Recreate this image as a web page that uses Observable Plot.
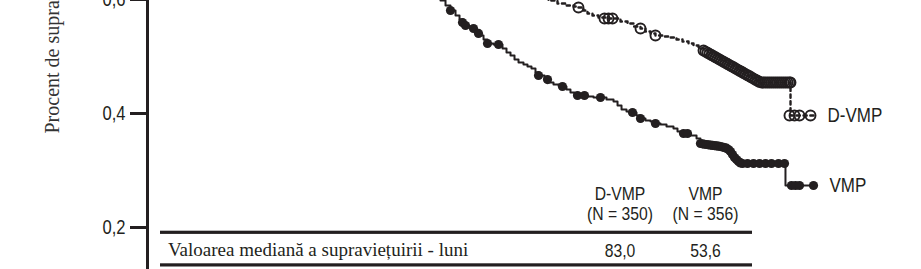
<!DOCTYPE html>
<html>
<head>
<meta charset="utf-8">
<script src="https://cdn.jsdelivr.net/npm/d3@7"></script>
<script src="https://cdn.jsdelivr.net/npm/@observablehq/plot@0.6"></script>
<style>
  body { margin: 0; background: white; }
  #chart { width: 921px; height: 269px; overflow: hidden; }
</style>
</head>
<body>
<div id="chart"></div>
<script>
// ---- Data (time in months, survival proportion) ----
const seriesNames = ["D-VMP", "VMP"];

const vmpT = [39.57,40.72,41.59,42.46,43.19,43.91,44.64,45.22,45.80,46.38,46.96,47.54,48.12,48.70,49.28,50.14,51.45,52.03,52.61,53.19,53.77,54.49,55.07,55.65,56.23,56.81,57.54,58.12,58.84,59.57,60.14,60.72,61.30,61.88,63.33,64.64,66.52,67.54,68.12,68.70,69.42,70.29,70.87,71.45,72.17,72.90,73.62,74.35,75.22,76.23,76.81,77.25,78.70,79.57,80.14,81.01,82.03,83.04,84.06,84.64,84.93,85.51,86.23,92.46,96.81];
const vmpS = [0.6368,0.6228,0.6105,0.5982,0.5895,0.5807,0.5719,0.5649,0.5579,0.5526,0.5474,0.5421,0.5368,0.5298,0.5228,0.5211,0.5140,0.5070,0.5018,0.4947,0.4895,0.4860,0.4825,0.4789,0.4719,0.4667,0.4596,0.4544,0.4509,0.4491,0.4474,0.4421,0.4368,0.4316,0.4298,0.4281,0.4246,0.4211,0.4140,0.4070,0.4035,0.4018,0.3965,0.3912,0.3877,0.3860,0.3825,0.3807,0.3772,0.3737,0.3684,0.3649,0.3614,0.3561,0.3474,0.3456,0.3439,0.3421,0.3386,0.3316,0.3246,0.3175,0.3123,0.2737,0.2737];

const vmpCensT = [43.91,45.65,46.09,47.25,47.97,49.28,50.87,56.67,57.97,60.14,62.32,63.33,65.65,70.29,71.45,73.62,77.68,78.26,
  80.14,80.43,80.72,81.01,81.30,81.59,81.88,82.17,82.46,82.75,83.04,83.33,83.62,83.91,84.20,84.49,84.78,85.07,85.36,85.65,85.94,86.23,
  86.96,87.83,88.70,89.57,90.43,91.45,92.32,93.33,93.91,94.49,96.52];
const vmpCensS = [0.5807,0.5596,0.5544,0.5491,0.5404,0.5228,0.5211,0.4667,0.4596,0.4474,0.4316,0.4316,0.4281,0.4018,0.3912,0.3825,0.3649,0.3649,
  0.3474,0.3468,0.3461,0.3456,0.3451,0.3446,0.3440,0.3437,0.3432,0.3426,0.3421,0.3411,0.3402,0.3391,0.3368,0.3333,0.3281,0.3228,0.3193,0.3158,0.3133,0.3123,
  0.3123,0.3123,0.3123,0.3123,0.3123,0.3123,0.3123,0.2737,0.2737,0.2737,0.2737];

const dvmpT = [54.06,56.23,58.12,59.42,60.58,61.74,62.46,63.19,63.77,64.49,65.36,66.67,68.55,69.57,70.43,71.45,72.17,72.90,73.62,74.78,75.80,76.67,77.54,78.41,79.13,79.86,80.58,81.30,81.88,82.46,83.04,83.62,84.20,84.78,85.36,85.94,86.52,87.10,87.68,88.26,88.84,93.19,96.52];
const dvmpS = [0.6158,0.6070,0.5982,0.5930,0.5895,0.5877,0.5860,0.5807,0.5754,0.5719,0.5684,0.5667,0.5614,0.5579,0.5526,0.5491,0.5439,0.5404,0.5368,0.5351,0.5333,0.5298,0.5263,0.5228,0.5193,0.5140,0.5105,0.5088,0.5053,0.5000,0.4965,0.4930,0.4877,0.4842,0.4807,0.4754,0.4719,0.4667,0.4632,0.4579,0.4544,0.3965,0.3965];

const dvmpCensT = [62.46,66.23,66.81,67.39,71.45,73.62,80.58,
  80.87,81.16,81.45,81.74,82.03,82.32,82.61,82.90,83.19,83.48,83.77,84.06,84.35,84.64,84.93,85.22,85.51,85.80,86.09,86.38,86.67,86.96,87.25,87.54,87.83,88.12,88.41,88.70,
  88.99,89.28,89.57,89.86,90.14,90.43,90.72,91.01,91.30,91.59,91.88,92.17,92.46,92.75,93.04,93.19,
  93.04,93.77,94.49,96.09];
const dvmpCensS = [0.5860,0.5667,0.5667,0.5667,0.5491,0.5368,0.5105,
  0.5086,0.5067,0.5046,0.5026,0.5007,0.4988,0.4967,0.4947,0.4928,0.4909,0.4889,0.4868,0.4849,0.4830,0.4811,0.4789,0.4770,0.4751,0.4732,0.4712,0.4691,0.4672,0.4653,0.4633,0.4612,0.4593,0.4574,0.4554,
  0.4544,0.4544,0.4544,0.4544,0.4544,0.4544,0.4544,0.4544,0.4544,0.4544,0.4544,0.4544,0.4544,0.4544,0.4544,0.4544,
  0.3965,0.3965,0.3965,0.3965];

const yTicks = [0.2, 0.4, 0.6];
const yTitle = "Procent de supraviețuire";

const tableHeads = ["D-VMP", "VMP"];
const tableNs = ["(N = 350)", "(N = 356)"];
const tableRowLabel = "Valoarea mediană a supraviețuirii - luni";
const tableMedians = ["83,0", "53,6"];

// ---- Build tables ----
const zip = (T, S) => T.map((t, i) => ({t, s: S[i]}));
const vmp = zip(vmpT, vmpS);
const dvmp = zip(dvmpT, dvmpS);
const vmpCens = zip(vmpCensT, vmpCensS);
const dvmpCens = zip(dvmpCensT, dvmpCensS);
const endLabels = [
  {name: seriesNames[0], ...dvmp[dvmp.length - 1]},
  {name: seriesNames[1], ...vmp[vmp.length - 1]}
];

const ink = "#231f20";
const sans = "'Liberation Sans', Arial, sans-serif";
const serif = "'Liberation Serif', 'Times New Roman', serif";
const narrowK = 0.85; // horizontal compression to mimic a condensed face

const chart = Plot.plot({
  width: 921,
  height: 269,
  marginTop: 0,
  marginBottom: 0,
  marginLeft: 147,
  marginRight: 84,
  x: {domain: [0, 100], axis: null},
  y: {domain: [0.12632, 0.59825]},
  style: {fontFamily: sans, color: ink, background: "white"},
  marks: [
    Plot.axisY({
      ticks: yTicks,
      tickSize: 17,
      tickPadding: 5,
      strokeWidth: 3,
      fontSize: 19.5,
      label: null,
      tickFormat: d => d.toFixed(1).replace(".", ",")
    }),
    Plot.ruleX([0], {strokeWidth: 3, stroke: ink}),
    Plot.line(vmp, {x: "t", y: "s", curve: "step-after", stroke: ink, strokeWidth: 2, clip: true}),
    Plot.line(dvmp, {x: "t", y: "s", curve: "step-after", stroke: ink, strokeWidth: 2.4, strokeDasharray: "3.2,3.6", clip: true}),
    Plot.dot(vmpCens, {x: "t", y: "s", r: 4.6, fill: ink, stroke: null, clip: true}),
    Plot.dot(dvmpCens, {x: "t", y: "s", r: 5, fill: "none", stroke: ink, strokeWidth: 1.9, clip: true}),
    Plot.text(endLabels, {x: "t", y: "s", text: "name", dx: 14, textAnchor: "start", fontSize: 20, fill: ink}),
    Plot.text([yTitle], {text: d => d, frameAnchor: "left", rotate: -90, textAnchor: "start", lineAnchor: "bottom", dx: -89, dy: -1.5, fontFamily: serif, fontSize: 20, fill: "#333"})
  ]
});

document.getElementById("chart").appendChild(chart);

// ---- Summary table overlaid in the plot area ----
const svg = d3.select(chart);
const g = svg.append("g").attr("fill", ink);
const colX = [620, 705.5];
g.append("rect").attr("x", 160).attr("y", 230.7).attr("width", 592).attr("height", 3.2);
g.append("rect").attr("x", 160).attr("y", 263.3).attr("width", 592).attr("height", 3.2);
const addCol = (arr, y) => g.selectAll(null).data(arr).join("text")
  .attr("transform", (d, i) => `translate(${colX[i]},${y})`)
  .attr("text-anchor", "middle").attr("font-family", sans).attr("font-size", 18.5)
  .text(d => d);
addCol(tableHeads, 199.5);
addCol(tableNs, 219.5);
addCol(tableMedians, 256.5);
g.append("text").attr("transform", "translate(168,256)")
  .attr("text-anchor", "start")
  .attr("font-family", serif).attr("font-size", 19)
  .text(tableRowLabel);

// Compress sans-serif texts horizontally around their anchor (condensed look)
svg.selectAll("text").each(function() {
  if (getComputedStyle(this).fontFamily.includes("Serif")) return;
  const t = this.getAttribute("transform") || "";
  const xa = this.getAttribute("x");
  const x = xa !== null && isFinite(+xa) ? +xa : 0;
  if (xa !== null && isFinite(+xa)) this.removeAttribute("x");
  this.setAttribute("transform", `${t} translate(${x},0) scale(${narrowK},1)`);
});
</script>
</body>
</html>
